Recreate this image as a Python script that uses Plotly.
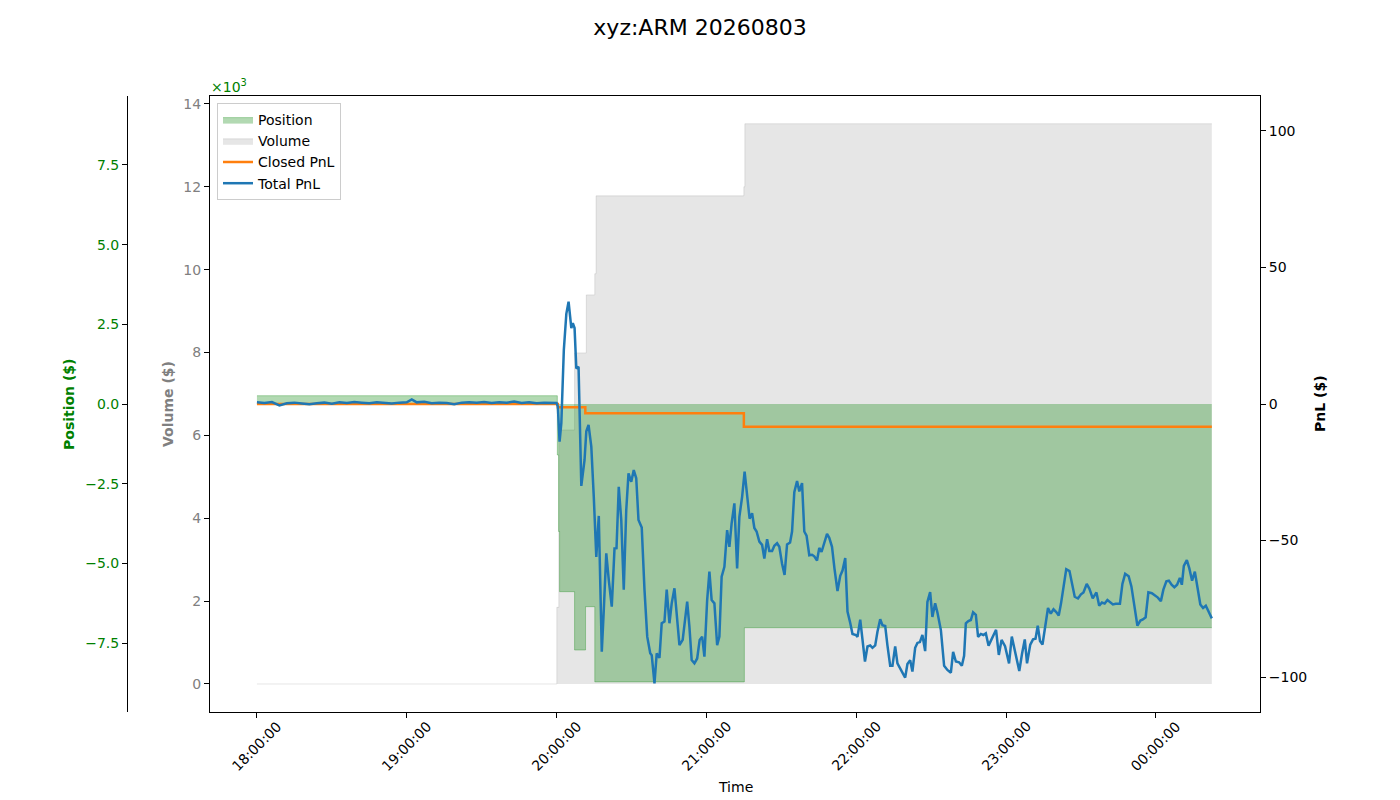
import pandas as pd
import plotly.graph_objects as go

title_text = "xyz:ARM 20260803"
start = pd.Timestamp("2026-08-03 18:00:00")

# position ($), step changes, minutes after 18:00
pos_min = [0, 120.3, 120.8, 121.2, 127.2, 131.6, 135.3, 195.2, 382.4]
pos_val = [260, -1600, -4000, -5890, -7720, -6360, -8720, -7020, -7020]

# cumulative volume ($)
vol_min = [0, 120.1, 120.9, 127.2, 131.9, 135.3, 135.8, 195.0, 195.4, 382.4]
vol_val = [0, 1850, 6130, 7990, 9390, 9900, 11780, 12000, 13520, 13520]

# closed pnl ($)
closed_min = [0, 120.5, 131.5, 195.0, 382.4]
closed_val = [0, -1.2, -3.4, -8.3, -8.3]

# total pnl ($)
pnl_min = [
    0, 3, 6, 9, 12, 15, 18, 21, 24, 27,
    30, 33, 36, 39, 42, 45, 48, 51, 54, 57,
    60, 62, 64, 67, 70, 73, 76, 79, 82, 85,
    88, 91, 94, 97, 100, 103, 106, 109, 112, 115,
    118, 120,
    120.5, 121.2, 121.9, 122.9, 123.9, 124.8, 125.9, 126.5, 127.2, 127.9,
    128.8, 129.9, 131.2, 131.9, 132.8, 133.9, 134.9, 135.9, 136.9, 138.1,
    138.9, 139.9, 140.9, 142.1, 143.2, 144.0, 144.9, 145.9, 146.9, 147.9,
    148.8, 149.9, 150.9, 151.9, 152.8, 154.1, 155.2, 156.3, 157.5, 158.1,
    159.2, 160.1, 161.2, 162.1, 163.2, 164.1, 165.2, 166.1, 167.2, 168.3,
    169.2, 170.5, 172.3, 173.2, 174.1, 175.2, 176.3, 177.3, 178.3, 179.2,
    180.3, 181.2, 182.1, 183.2, 184.3, 185.2, 186.1, 187.2, 188.3, 189.2,
    190.1, 191.2, 192.3, 193.2, 194.3, 195.3, 196.3, 197.3, 198.3, 199.2,
    200.1, 201.2, 202.3, 203.2, 204.3, 205.2, 206.3, 207.2, 208.3, 209.2,
    210.3, 211.3, 212.3, 213.5, 214.3, 215.2, 216.3, 217.2, 218.3, 219.2,
    220.1, 221.2, 222.3, 223.2, 224.3, 225.2, 226.1, 227.2, 228.3, 229.2,
    230.3, 231.3, 232.5, 233.6, 234.5, 235.6, 236.5, 237.6, 238.5, 239.9,
    240.5, 241.6, 242.5, 243.5, 244.5, 245.6, 246.5, 247.6, 248.5, 249.6,
    250.5, 251.6, 252.5, 253.6, 254.5, 255.6, 256.5, 257.6, 258.5, 259.6,
    260.5, 261.6, 262.5, 263.6, 264.5, 265.5, 266.5, 267.6, 268.5, 269.6,
    270.5, 271.6, 272.5, 273.9, 275.2, 276.5, 277.9, 278.8, 279.9, 281.2,
    282.3, 283.2, 283.9, 284.9, 285.9, 286.8, 287.9, 288.8, 289.9, 290.9,
    291.9, 293.0, 294.4, 296.0, 297.1, 298.2, 299.6, 301.2, 302.3, 303.7,
    305.3, 306.4, 307.5, 308.4, 309.7, 310.8, 311.8, 312.7, 313.6, 314.6,
    315.6, 316.8, 317.9, 319.0, 320.1, 321.1, 322.0, 323.1, 324.1, 325.4,
    326.4, 327.5, 328.8, 330.0, 331.0, 332.3, 333.4, 334.7, 336.2, 337.3,
    338.4, 339.5, 340.6, 341.7, 342.8, 343.9, 345.6, 346.6, 347.7, 349.1,
    350.2, 351.3, 352.6, 353.8, 354.8, 355.9, 357.0, 358.4, 359.8, 360.8,
    362.0, 363.0, 364.2, 365.2, 366.3, 367.4, 368.5, 369.6, 370.4, 371.2,
    372.4, 373.4, 374.5, 375.6, 376.7, 377.8, 378.9, 380.0, 381.1, 382.4,
]
pnl_val = [
    0.6, 0.4, 0.7, -0.5, 0.3, 0.5, 0.2, -0.1, 0.3, 0.5,
    0.1, 0.6, 0.4, 0.7, 0.5, 0.3, 0.6, 0.4, 0.2, 0.5,
    0.6, 1.7, 0.6, 0.8, 0.3, 0.5, 0.4, -0.1, 0.5, 0.6,
    0.5, 0.7, 0.4, 0.6, 0.5, 0.9, 0.4, 0.6, 0.3, 0.5,
    0.6, 0.4,
    -1, -13.8, -7, 19.8, 33, 37.5, 27.8, 29.6, 27.8, 13,
    13.6, -30, -20.5, -10, -7.7, -15.6, -34, -56, -41, -90.7,
    -75.5, -54.7, -64.5, -74.2, -52.9, -52.8, -30.3, -42.5, -68, -38.8,
    -25.4, -28.5, -24.2, -27.2, -42.5, -45.2, -68, -85.2, -91.3, -92,
    -102.3, -91.3, -93, -80.3, -79.7, -68, -80.3, -73, -67.5, -80.3,
    -88.3, -86.4, -72.4, -81.6, -93.8, -95, -93.2, -86.4, -85.2, -92.5,
    -71.8, -61.4, -71.8, -73, -88.3, -85.2, -63.2, -59.6, -46.2, -52.3,
    -43.7, -36.4, -60.2, -41.3, -34, -24.8, -32.7, -42, -40, -45.4,
    -46.7, -50.4, -51.6, -56.6, -49.5, -53.8, -53.8, -51.9, -51, -52.3,
    -58.5, -62.6, -51.4, -50.7, -46.7, -32.3, -28.2, -32, -29, -46.7,
    -48.2, -55.4, -55.2, -55.8, -57.3, -52.7, -54.2, -50.4, -47.6, -49,
    -52.3, -60.4, -68.5, -62.9, -61, -56.4, -76, -80.2, -84.2, -84.6,
    -85.3, -79, -86.4, -94.3, -88.8, -88.4, -89.3, -88.4, -83.4, -78.8,
    -81, -81.3, -88.4, -95.9, -95.9, -88.8, -95, -97.1, -98.4, -100.2,
    -95.2, -93.8, -98, -89.3, -87.5, -87.2, -84.6, -90.5, -72.5, -68.9,
    -78, -73, -76.3, -82.8, -95.9, -97.4, -98.4, -90.8, -94.3, -94.6,
    -95.9, -92.2, -80.3, -79.5, -79.1, -76.3, -77.2, -85.3, -84.2, -84.6,
    -84, -88.5, -86, -82.7, -91.9, -86.4, -88.7, -95, -85.2, -91,
    -97.8, -91.5, -86.2, -95, -88.1, -86.2, -86, -81.2, -86.8, -88.1,
    -81.2, -74.7, -76.8, -75.2, -76.2, -77.5, -73.1, -65.6, -60.5, -61.2,
    -65.6, -70.6, -71.2, -69.7, -69, -65.9, -67.7, -71.2, -69, -73.9,
    -72.7, -73.1, -71.8, -72.7, -73.4, -73.2, -73.2, -65.9, -62.2, -63.1,
    -66.8, -73.4, -81.2, -79.3, -78.9, -78.1, -69, -69.3, -70.2, -70.9,
    -72.2, -68, -64.9, -64.7, -66.2, -67.1, -66.2, -63.7, -66.2, -59.3,
    -57.2, -60.2, -64.7, -61.4, -67.4, -73.4, -74.7, -73.9, -76, -78.5,
]

hour_offsets = [0, 1, 2, 3, 4, 5, 6]
pos_ticks = [-7500, -5000, -2500, 0, 2500, 5000, 7500]
vol_ticks = [0, 2000, 4000, 6000, 8000, 10000, 12000, 14000]
pnl_ticks = [-100, -50, 0, 50, 100]

W, H = 1400, 800
TOP, BOTTOM = 96, 712  # plot area in pixels


def to_time(mins):
    return start + pd.to_timedelta(mins, unit="min")


def minus(s):
    return s.replace("-", "\u2212")


def px_x(px):
    return px / W


def px_y(py):
    return (BOTTOM - py) / (BOTTOM - TOP)


fig = go.Figure()

# 成交量 (灰色填充)
fig.add_trace(go.Scatter(
    x=to_time(pd.Series(vol_min)), y=vol_val, name="Volume",
    mode="lines", line=dict(color="rgba(128,128,128,0.2)", width=1, shape="hv"),
    fill="tozeroy", fillcolor="rgba(128,128,128,0.2)",
    yaxis="y", legendrank=2,
))

# 持仓 (绿色填充)
fig.add_trace(go.Scatter(
    x=to_time(pd.Series(pos_min)), y=pos_val, name="Position",
    mode="lines", line=dict(color="rgba(0,128,0,0.3)", width=1, shape="hv"),
    fill="tozeroy", fillcolor="rgba(0,128,0,0.3)",
    yaxis="y2", legendrank=1,
))

# PnL 曲线
fig.add_trace(go.Scatter(
    x=to_time(pd.Series(closed_min)), y=closed_val, name="Closed PnL",
    mode="lines", line=dict(color="#ff7f0e", width=2.5, shape="hv"),
    yaxis="y3", legendrank=3,
))
fig.add_trace(go.Scatter(
    x=to_time(pd.Series(pnl_min)), y=pnl_val, name="Total PnL",
    mode="lines", line=dict(color="#1f77b4", width=2.5),
    yaxis="y3", legendrank=4,
))

hours = [start + pd.Timedelta(hours=h) for h in hour_offsets]
axis_common = dict(showgrid=False, zeroline=False, ticks="outside", ticklen=5,
                   tickcolor="black", showline=True, linecolor="black",
                   linewidth=1, automargin=False)

fig.update_layout(
    width=W, height=H,
    margin=dict(l=0, r=0, t=TOP, b=H - BOTTOM, autoexpand=False),
    plot_bgcolor="white", paper_bgcolor="white",
    font=dict(family="DejaVu Sans", size=14, color="black"),
    title=dict(text=title_text, x=0.5, xanchor="center", y=1 - 27 / H,
               yanchor="middle", font=dict(size=22, color="black")),
    xaxis=dict(domain=[210 / W, 1260 / W], type="date",
               range=[to_time(-18.8), to_time(401.7)],
               tickvals=hours, showticklabels=False, mirror=True, **axis_common),
    yaxis=dict(range=[-676, 14190], tickvals=vol_ticks,
               ticktext=[f"{v // 1000}" for v in vol_ticks],
               tickfont=dict(color="gray", size=14), mirror=True, **axis_common),
    yaxis2=dict(overlaying="y", anchor="free", position=127 / W, side="left",
                range=[-9665, 9665], tickvals=pos_ticks,
                ticktext=[minus(f"{v / 1000:.1f}") for v in pos_ticks],
                tickfont=dict(color="green", size=14), **axis_common),
    yaxis3=dict(overlaying="y", anchor="x", side="right",
                range=[-112.8, 112.8], tickvals=pnl_ticks,
                ticktext=[minus(str(v)) for v in pnl_ticks],
                tickfont=dict(color="black", size=14), **axis_common),
    legend=dict(x=px_x(217), y=px_y(103), xanchor="left", yanchor="top",
                bgcolor="rgba(255,255,255,0.8)", bordercolor="#cccccc",
                borderwidth=1, font=dict(size=14), traceorder="normal"),
)

annotations = []
for h in hours:
    annotations.append(dict(
        x=h, y=px_y(746), xref="x", yref="paper",
        text=h.strftime("%H:%M:%S"), textangle=-45, showarrow=False,
        xanchor="center", yanchor="middle", font=dict(size=14),
    ))
annotations += [
    dict(x=px_x(735), y=px_y(787), xref="paper", yref="paper", text="Time",
         showarrow=False, xanchor="center", yanchor="middle", font=dict(size=14)),
    dict(x=px_x(69), y=0.5, xref="paper", yref="paper", text="<b>Position ($)</b>",
         textangle=-90, showarrow=False, xanchor="center", yanchor="middle",
         font=dict(size=14, color="green")),
    dict(x=px_x(168), y=0.5, xref="paper", yref="paper", text="<b>Volume ($)</b>",
         textangle=-90, showarrow=False, xanchor="center", yanchor="middle",
         font=dict(size=14, color="gray")),
    dict(x=px_x(1320), y=0.5, xref="paper", yref="paper", text="<b>PnL ($)</b>",
         textangle=-90, showarrow=False, xanchor="center", yanchor="middle",
         font=dict(size=14, color="black")),
    dict(x=px_x(209), y=px_y(86), xref="paper", yref="paper", text="\u00d710<sup>3</sup>",
         showarrow=False, xanchor="left", yanchor="middle",
         font=dict(size=14, color="green")),
]
fig.update_layout(annotations=annotations)

# 去掉浏览器默认的 body 边距, 隐藏工具栏
fig.write_html("out.html", config={"displayModeBar": False},
               post_script="document.body.style.margin='0';")
